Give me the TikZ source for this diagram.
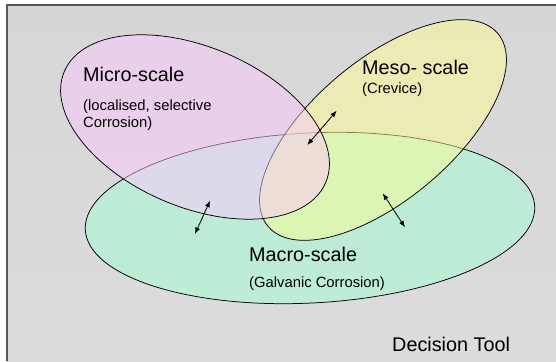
\documentclass[tikz,border=0pt]{standalone}
\usepackage{fontspec}
\setmainfont{Liberation Sans}
\usetikzlibrary{arrows.meta}
\definecolor{bgtop}{RGB}{214,214,214}
\definecolor{bgmid}{RGB}{251,251,251}
\definecolor{bgbot}{RGB}{220,220,220}
\definecolor{framecol}{RGB}{88,88,88}
\definecolor{microcol}{RGB}{252,200,252}
\definecolor{mesocol}{RGB}{255,255,145}
\definecolor{macrocol}{RGB}{160,255,210}
\tikzset{
  ell/.style={draw=black, line width=0.75pt, fill opacity=0.5, draw opacity=1},
  bigtxt/.style={font=\fontsize{19.8}{24}\selectfont, inner sep=0pt, anchor=base west},
  smalltxt/.style={font=\fontsize{14.8}{16.7}\selectfont, inner sep=0pt, anchor=base west},
  dblarrow/.style={{Latex[length=6.5pt,width=5pt]}-{Latex[length=6.5pt,width=5pt]}, line width=0.8pt, black}
}
\begin{document}
\begin{tikzpicture}[x=1pt,y=1pt]
\useasboundingbox (0,0) rectangle (556,361);
\fill[white] (0,0) rectangle (556,361);
\shade[top color=bgtop, middle color=bgmid, bottom color=bgbot] (6,0) rectangle (556,355.5);
\draw[framecol, line width=2pt] (6.5,0) -- (6.5,355.5) -- (556,355.5);

% ellipses: macro (bottom), meso, micro (top)
\draw[ell, fill=macrocol, rotate around={3:(310,143)}] (310,143) ellipse [x radius=225pt, y radius=85pt];
\draw[ell, fill=mesocol, rotate around={40:(383,231)}] (383,231) ellipse [x radius=150pt, y radius=70pt];
\draw[ell, fill=microcol, rotate around={-23:(195,234)}] (195,234) ellipse [x radius=142pt, y radius=80pt];

% texts
\node[bigtxt] (micro) at (83,279) {Micro-scale};
\node[smalltxt] (microsub1) at (83,250.5) {(localised, selective};
\node[smalltxt] (microsub2) at (83,233.8) {Corrosion)};
\node[bigtxt] (meso) at (362,286) {Meso- scale};
\node[smalltxt] (mesosub) at (362,267.5) {(Crevice)};
\node[bigtxt] (macro) at (249,99.3) {Macro-scale};
\node[smalltxt] (macrosub) at (249,73.7) {(Galvanic Corrosion)};
\node[bigtxt] (tool) at (392,10) {Decision Tool};

% arrows
\coordinate (a1s) at (307.3,216);
\coordinate (a1e) at (336.7,250.3);
\coordinate (a2s) at (210,160.3);
\coordinate (a2e) at (195,127);
\coordinate (a3s) at (382.7,167.7);
\coordinate (a3e) at (405,133.7);
\draw[dblarrow] (a1s) -- (a1e);
\draw[dblarrow] (a2s) -- (a2e);
\draw[dblarrow] (a3s) -- (a3e);
\end{tikzpicture}
\end{document}
